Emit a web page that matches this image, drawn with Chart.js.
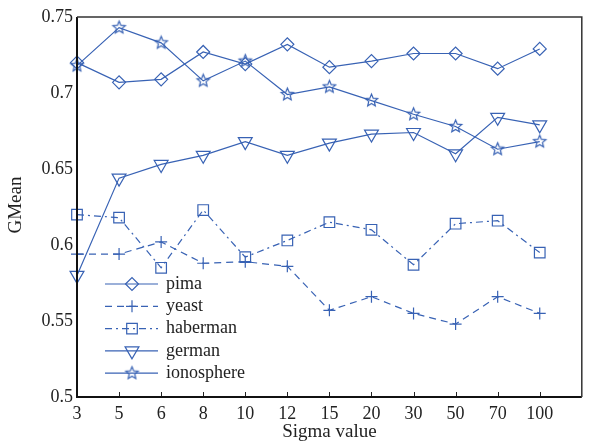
<!DOCTYPE html>
<html><head><meta charset="utf-8">
<script src="https://cdn.jsdelivr.net/npm/chart.js@4"></script>
<style>html,body{margin:0;padding:0;background:#fff}#c{display:block}</style>
</head><body>
<canvas id="c" width="591" height="442"></canvas>
<script>
const sigmaLabels = ['3','5','6','8','10','12','15','20','30','50','70','100'];
const yTicks = [0.5, 0.55, 0.6, 0.65, 0.7, 0.75];
const pima       = [0.720, 0.707, 0.709, 0.727, 0.719, 0.732, 0.717, 0.721, 0.726, 0.726, 0.716, 0.729];
const yeast      = [0.594, 0.594, 0.602, 0.588, 0.589, 0.586, 0.557, 0.566, 0.555, 0.548, 0.566, 0.555];
const haberman   = [0.620, 0.618, 0.585, 0.623, 0.592, 0.603, 0.615, 0.610, 0.587, 0.614, 0.616, 0.595];
const german     = [0.580, 0.644, 0.653, 0.659, 0.668, 0.659, 0.667, 0.673, 0.674, 0.660, 0.684, 0.679];
const ionosphere = [0.718, 0.743, 0.733, 0.708, 0.721, 0.699, 0.704, 0.695, 0.686, 0.678, 0.663, 0.668];

const BLUE = '#3862b4';
const FONT = '"Liberation Serif", "Times New Roman", serif';

function starCanvas(r, color) {
  const s = Math.ceil(2 * r + 4);
  const c = document.createElement('canvas');
  c.width = s; c.height = s;
  const g = c.getContext('2d');
  g.strokeStyle = color; g.lineWidth = 1.2;
  g.beginPath();
  for (let i = 0; i < 10; i++) {
    const ang = -Math.PI / 2 + i * Math.PI / 5;
    const rr = (i % 2) ? r * 0.45 : r;
    g.lineTo(s / 2 + rr * Math.cos(ang), s / 2 + rr * Math.sin(ang));
  }
  g.closePath(); g.stroke();
  return c;
}
const STAR = starCanvas(6.5, BLUE);

function pts(arr) { return arr.map((v, i) => ({x: i, y: v})); }

const series = [
  {label: 'pima', data: pima, pointStyle: 'rectRot', radius: 6.5, rotation: 0, dash: []},
  {label: 'yeast', data: yeast, pointStyle: 'cross', radius: 6, rotation: 0, dash: [7, 5]},
  {label: 'haberman', data: haberman, pointStyle: 'rect', radius: 7.5, rotation: 0, dash: [7, 4, 2, 4]},
  {label: 'german', data: german, pointStyle: 'triangle', radius: 8, rotation: 180, dash: []},
  {label: 'ionosphere', data: ionosphere, pointStyle: STAR, radius: 6.5, rotation: 0, dash: []}
];

const datasets = series.map(s => ({
  label: s.label,
  data: pts(s.data),
  borderColor: BLUE,
  backgroundColor: 'rgba(0,0,0,0)',
  borderWidth: 1.2,
  borderDash: s.dash,
  pointStyle: s.pointStyle,
  pointRadius: s.radius,
  pointRotation: s.rotation,
  pointBorderColor: BLUE,
  pointBackgroundColor: 'rgba(0,0,0,0)',
  pointBorderWidth: 1.2,
  tension: 0,
  clip: false
}));

const framePlugin = {
  id: 'frame',
  afterDraw(chart) {
    const {ctx, chartArea: a, scales} = chart;
    ctx.save();
    // inward ticks on bottom
    ctx.strokeStyle = '#222'; ctx.lineWidth = 1;
    for (let i = 1; i < sigmaLabels.length; i++) {
      const x = Math.round(scales.x.getPixelForValue(i)) + 0.5;
      ctx.beginPath(); ctx.moveTo(x, a.bottom); ctx.lineTo(x, a.bottom - 5); ctx.stroke();
    }
    // frame
    ctx.strokeStyle = '#111'; ctx.lineWidth = 2;
    ctx.beginPath();
    ctx.moveTo(a.left, a.top); ctx.lineTo(a.left, a.bottom); ctx.lineTo(a.right, a.bottom);
    ctx.stroke();
    ctx.strokeStyle = '#333'; ctx.lineWidth = 1.5;
    ctx.beginPath();
    ctx.moveTo(a.left, a.top); ctx.lineTo(a.right, a.top); ctx.lineTo(a.right, a.bottom);
    ctx.stroke();
    // axis titles
    ctx.fillStyle = '#222';
    ctx.font = '19px ' + FONT;
    ctx.textAlign = 'center'; ctx.textBaseline = 'middle';
    ctx.fillText('Sigma value', (a.left + a.right) / 2, 432);
    ctx.save();
    ctx.translate(16, 205); ctx.rotate(-Math.PI / 2);
    ctx.fillText('GMean', 0, 0);
    ctx.restore();
    // legend
    const x0 = 105, x1 = 158, xm = 132, xt = 166, y0 = 284, dy = 22.3;
    ctx.font = '18px ' + FONT;
    ctx.textBaseline = 'middle';
    ctx.textAlign = 'left';
    series.forEach((s, i) => {
      const y = y0 + i * dy;
      ctx.strokeStyle = BLUE; ctx.lineWidth = 1.2;
      ctx.setLineDash(s.dash);
      ctx.beginPath(); ctx.moveTo(x0, y); ctx.lineTo(x1, y); ctx.stroke();
      ctx.setLineDash([]);
      ctx.fillStyle = 'rgba(0,0,0,0)';
      ctx.strokeStyle = BLUE;
      Chart.helpers.drawPoint(ctx, {pointStyle: s.pointStyle, rotation: s.rotation, radius: s.radius, borderWidth: 1.2}, xm, y);
      ctx.fillStyle = '#222';
      ctx.fillText(s.label, xt, y);
    });
    ctx.restore();
  }
};

new Chart(document.getElementById('c'), {
  type: 'line',
  data: {datasets},
  plugins: [framePlugin],
  options: {
    responsive: false,
    animation: false,
    devicePixelRatio: 1,
    layout: {padding: {left: 0, right: 2, top: 17, bottom: 0}},
    plugins: {legend: {display: false}, tooltip: {enabled: false}},
    scales: {
      x: {
        type: 'linear', min: 0, max: 12,
        afterBuildTicks(scale) { scale.ticks = sigmaLabels.map((l, i) => ({value: i})); },
        afterFit(scale) { scale.height = 45; },
        grid: {display: false, drawTicks: false},
        border: {display: false},
        ticks: {
          color: '#222', font: {family: FONT, size: 18}, padding: 6, maxRotation: 0, autoSkip: false,
          callback: (v) => sigmaLabels[v] !== undefined ? sigmaLabels[v] : ''
        }
      },
      y: {
        min: 0.5, max: 0.75,
        afterBuildTicks(scale) { scale.ticks = yTicks.map(v => ({value: v})); },
        afterFit(scale) { scale.width = 77; },
        grid: {display: false, drawTicks: false},
        border: {display: false},
        ticks: {
          color: '#222', font: {family: FONT, size: 18}, padding: 4,
          callback: (v) => String(parseFloat(v.toFixed(2)))
        }
      }
    }
  }
});
</script>
</body></html>
